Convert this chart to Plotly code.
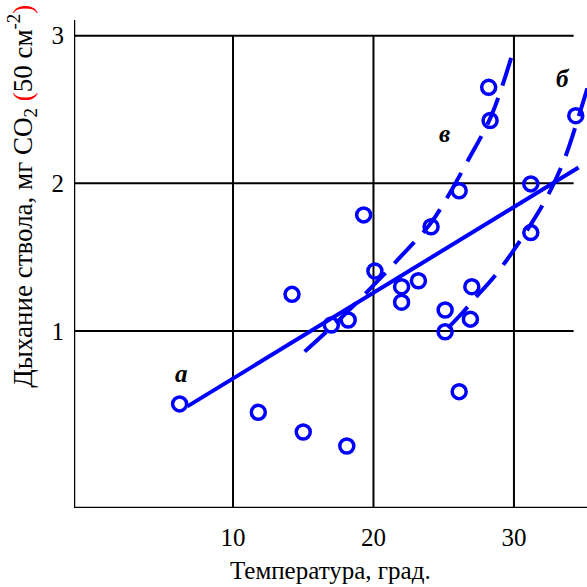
import plotly.graph_objects as go

# Measured stem respiration vs. air temperature
temperature = [6.2, 11.8, 15.0, 18.1, 14.2, 17.0, 18.2, 19.3, 20.1, 22.0, 22.0, 23.2,
               24.1, 26.1, 28.3, 28.2, 31.2, 31.2, 34.4, 27.0, 25.1, 26.9, 25.1, 26.1]
respiration = [0.506, 0.449, 0.316, 0.221, 1.248, 1.04, 1.074, 1.786, 1.406, 1.30, 1.195, 1.34,
               1.706, 1.95, 2.425, 2.65, 1.996, 1.666, 2.458, 1.30, 1.142, 1.08, 0.995, 0.589]

# Fitted curves
line_a_x = [6.75, 34.6]
line_a_y = [0.489, 2.107]
curve_v_x = [15.1, 17.5, 19.7, 21.8, 24.0, 25.1, 26.7, 28.4, 29.8]
curve_v_y = [0.86, 1.07, 1.28, 1.49, 1.72, 1.88, 2.15, 2.46, 2.85]
curve_b_x = [25.3, 26.4, 27.3, 28.7, 30.5, 32.2, 33.5, 34.6, 35.4]
curve_b_y = [1.02, 1.13, 1.23, 1.38, 1.62, 1.88, 2.14, 2.45, 2.70]

# Curve labels
label_text = ["а", "в", "б"]
label_x = [6.34, 25.09, 33.48]
label_y = [0.713, 2.339, 2.712]

x_ticks = [10, 20, 30]
y_ticks = [1, 2, 3]

X_MIN, X_MAX = -1.32, 35.2
Y_MIN, Y_MAX = -0.199, 3.106
GRID_END = 34.25

BLUE = "#0000ff"
FONT = "Liberation Serif"

fig = go.Figure()

fig.add_trace(go.Scatter(x=line_a_x, y=line_a_y, mode="lines",
                         line=dict(color=BLUE, width=4), hoverinfo="skip"))
fig.add_trace(go.Scatter(x=curve_v_x, y=curve_v_y, mode="lines",
                         line=dict(color=BLUE, width=4, dash="29px,13px", shape="spline"),
                         hoverinfo="skip"))
fig.add_trace(go.Scatter(x=curve_b_x, y=curve_b_y, mode="lines",
                         line=dict(color=BLUE, width=4, dash="29px,13px", shape="spline"),
                         hoverinfo="skip"))
fig.add_trace(go.Scatter(x=temperature, y=respiration, mode="markers",
                         marker=dict(symbol="circle-open", size=14, color=BLUE,
                                     line=dict(color=BLUE, width=3.5)),
                         cliponaxis=False))

# Grid frame: horizontal lines end short of the right edge, verticals stop at the top tick
shapes = []
for yv in y_ticks:
    shapes.append(dict(type="line", x0=X_MIN, x1=GRID_END, y0=yv, y1=yv,
                       line=dict(color="black", width=2), layer="below"))
for xv in x_ticks:
    shapes.append(dict(type="line", x0=xv, x1=xv, y0=Y_MIN, y1=max(y_ticks),
                       line=dict(color="black", width=2), layer="below"))
shapes.append(dict(type="line", x0=X_MIN, x1=X_MIN, y0=Y_MIN, y1=Y_MAX,
                   line=dict(color="black", width=2.5), layer="below"))
shapes.append(dict(type="line", x0=X_MIN, x1=X_MAX, y0=Y_MIN, y1=Y_MIN,
                   line=dict(color="black", width=2.5), layer="below"))

annotations = []
for t, xv, yv in zip(label_text, label_x, label_y):
    annotations.append(dict(x=xv, y=yv, xref="x", yref="y", text=f"<b><i>{t}</i></b>",
                            showarrow=False, font=dict(family=FONT, size=25, color="black")))

annotations.append(dict(
    x=-0.1014, y=0.64, xref="paper", yref="paper", textangle=-90, showarrow=False,
    xanchor="center", yanchor="middle",
    text=("Дыхание ствола, мг CO<sub>2</sub> <span style='color:red'>(</span>50 см"
          "<sup>-2</sup><span style='color:red'>)</span>"),
    font=dict(family=FONT, size=27, color="black")))

annotations.append(dict(
    x=0.5, y=-0.128, xref="paper", yref="paper", showarrow=False,
    xanchor="center", yanchor="middle",
    text="Температура, град.",
    font=dict(family=FONT, size=25, color="black")))

fig.update_layout(
    width=587, height=587,
    margin=dict(l=74, r=0, t=20, b=79),
    paper_bgcolor="white", plot_bgcolor="white",
    showlegend=False,
    shapes=shapes,
    annotations=annotations,
    font=dict(family=FONT, size=25, color="black"),
    xaxis=dict(range=[X_MIN, X_MAX], tickvals=x_ticks, ticktext=[str(v) for v in x_ticks],
               showgrid=False, zeroline=False, showline=False, ticks="",
               tickfont=dict(family=FONT, size=25, color="black"),
               ticklabelstandoff=12),
    yaxis=dict(range=[Y_MIN, Y_MAX], tickvals=y_ticks, ticktext=[str(v) for v in y_ticks],
               showgrid=False, zeroline=False, showline=False, ticks="",
               tickfont=dict(family=FONT, size=25, color="black"),
               ticklabelstandoff=9),
)

fig.write_html("out.html")
